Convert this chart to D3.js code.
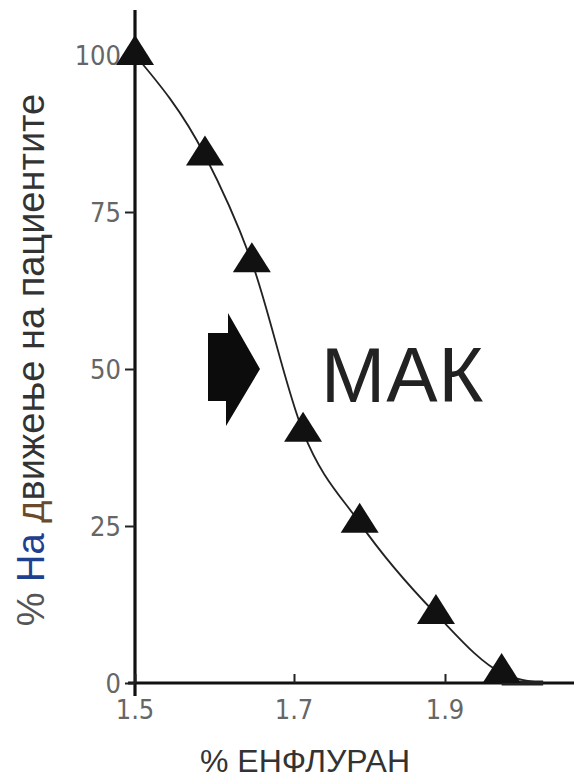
<!DOCTYPE html>
<html><head><meta charset="utf-8">
<script src="https://cdn.jsdelivr.net/npm/d3@7/dist/d3.min.js"></script>
<style>body{margin:0;background:#fff}svg{display:block}</style>
</head><body>
<script>
const enflurane = [1.5, 1.588, 1.647, 1.712, 1.787, 1.888, 1.975];
const movingPct = [100, 84, 67, 40, 25.5, 11, 1.6];
const curveX = [1.5, 1.588, 1.647, 1.712, 1.787, 1.888, 1.975, 2.03];
const curveY = [100, 84, 67, 40, 25.5, 11, 1.6, 0];
const xTicks = [1.5, 1.7, 1.9];
const xTickLabels = ["1.5", "1.7", "1.9"];
const yTicks = [0, 25, 50, 75, 100];
const yTickLabels = ["0", "25", "50", "75", "100"];

const W = 574, H = 780;
const svg = d3.select("body").append("svg").attr("width", W).attr("height", H);

const x = d3.scaleLinear().domain([1.5, 1.7, 1.9]).range([135, 294, 445]);
const y = d3.scaleLinear().domain([0, 100]).range([683, 55]);

const tickFont = "'Liberation Sans Narrow','DejaVu Sans Condensed',sans-serif";

// axes lines
svg.append("line").attr("x1", 135).attr("x2", 135).attr("y1", 10).attr("y2", 696)
  .attr("stroke", "#111").attr("stroke-width", 3.2);
svg.append("line").attr("x1", 128).attr("x2", 574).attr("y1", y(0)).attr("y2", y(0))
  .attr("stroke", "#111").attr("stroke-width", 3.2);

// y axis ticks
const yAxis = d3.axisLeft(y).tickValues(yTicks).tickSize(10).tickPadding(4)
  .tickFormat((d, i) => yTickLabels[i]);
const gy = svg.append("g").attr("transform", "translate(135,0)").call(yAxis);
gy.select(".domain").remove();
gy.selectAll(".tick line").attr("stroke", "#222").attr("stroke-width", 2);
gy.selectAll(".tick text").attr("font-family", tickFont).attr("font-size", 27)
  .attr("fill", "#666").attr("dy", "0.34em");

// x axis ticks
const xAxis = d3.axisTop(x).tickValues(xTicks).tickSize(9).tickFormat(() => "");
const gx = svg.append("g").attr("transform", `translate(0,${y(0)})`).call(xAxis);
gx.select(".domain").remove();
gx.selectAll(".tick line").attr("stroke", "#222").attr("stroke-width", 2);
svg.selectAll(".xlab").data(xTicks).enter().append("text")
  .attr("x", d => x(d)).attr("y", 719).attr("text-anchor", "middle")
  .attr("font-family", tickFont).attr("font-size", 27).attr("fill", "#666")
  .text((d, i) => xTickLabels[i]);

// curve
const pts = curveX.map((v, i) => [x(v), y(curveY[i])]);
svg.append("path").attr("d", d3.line().curve(d3.curveMonotoneX)(pts))
  .attr("fill", "none").attr("stroke", "#222").attr("stroke-width", 1.8);
svg.append("line").attr("x1", x(1.975)).attr("x2", x(2.03)).attr("y1", y(0)).attr("y2", y(0))
  .attr("stroke", "#222").attr("stroke-width", 5);

// triangles
const tw = 38, th = 30;
const tri = `M0,${-th*2/3}L${tw/2},${th/3}L${-tw/2},${th/3}Z`;
svg.selectAll(".tri").data(enflurane).enter().append("path")
  .attr("d", tri)
  .attr("transform", (d, i) => `translate(${x(d)},${y(movingPct[i])})`)
  .attr("fill", "#111");

// block arrow at 50%
const ay = y(50);
svg.append("path")
  .attr("d", `M208,${ay-36}L228,${ay-36}L228,${ay-56}L260,${ay}L226,${ay+57}L226,${ay+32}L208,${ay+32}Z`)
  .attr("fill", "#0c0c0c");

// MAK
svg.append("text").attr("x", 321).attr("y", ay + 33)
  .attr("font-family", "'Liberation Sans',Arial,sans-serif").attr("font-size", 77)
  .attr("letter-spacing", 1)
  .attr("fill", "#222").text("МАК");

// x title
svg.append("text").attr("x", 305).attr("y", 772).attr("text-anchor", "middle")
  .attr("font-family", "'Liberation Sans',Arial,sans-serif").attr("font-size", 32)
  .attr("fill", "#333").text("% ЕНФЛУРАН");

// y title
const yt = svg.append("text").attr("transform", "translate(44,360) rotate(-90)")
  .attr("text-anchor", "middle")
  .attr("font-family", "'Liberation Sans',Arial,sans-serif").attr("font-size", 38)
  .attr("fill", "#333");
yt.append("tspan").attr("fill", "#555").text("% ");
yt.append("tspan").attr("fill", "#1f3f8f").text("На");
yt.append("tspan").text(" ");
yt.append("tspan").attr("fill", "#6a4a2a").text("д");
yt.append("tspan").text("вижење на пациентите");
</script>
</body></html>
